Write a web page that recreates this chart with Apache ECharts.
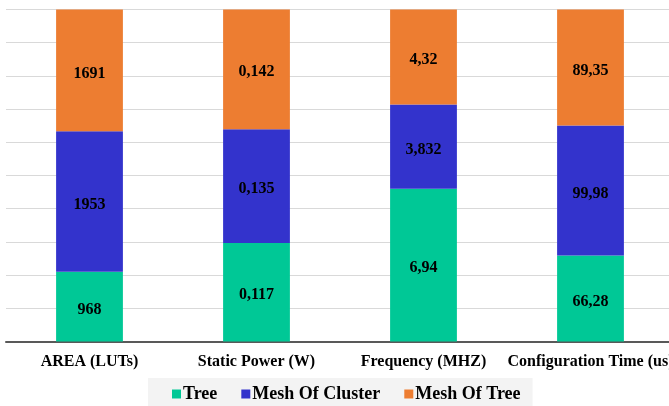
<!DOCTYPE html>
<html><head><meta charset="utf-8">
<script src="https://cdn.jsdelivr.net/npm/echarts@6/dist/echarts.min.js"></script>
<style>html,body{margin:0;padding:0;background:#fff}#c{width:669px;height:406px}</style>
</head><body><div id="c"></div>
<script>
const categories = ['AREA (LUTs)', 'Static Power (W)', 'Frequency (MHZ)', 'Configuration Time (us)'];
const treeValues = [968, 0.117, 6.94, 66.28];
const meshClusterValues = [1953, 0.135, 3.832, 99.98];
const meshTreeValues = [1691, 0.142, 4.32, 89.35];
const seriesNames = ['Tree', 'Mesh Of Cluster', 'Mesh Of Tree'];
const colors = ['#00C896', '#3333CC', '#ED7D31'];

const raw = [treeValues, meshClusterValues, meshTreeValues];
const totals = categories.map((_, i) => raw.reduce((s, arr) => s + arr[i], 0));
const fmt = v => String(v).replace('.', ',');
const serif = '"Liberation Serif", "Times New Roman", serif';

const chart = echarts.init(document.getElementById('c'));
chart.setOption({
  animation: false,
  grid: { left: 6, width: 668, top: 9.5, bottom: 64.5, containLabel: false, outerBoundsMode: 'none' },
  legend: {
    data: seriesNames,
    left: 148, top: 378,
    padding: [7, 12, 10, 24],
    backgroundColor: '#f3f3f3',
    itemWidth: 9, itemHeight: 9, itemGap: 24,
    icon: 'rect',
    textStyle: { fontFamily: serif, fontWeight: 'bold', fontSize: 18, color: '#000', padding: [0, 0, 0, -3] }
  },
  xAxis: {
    type: 'category', data: categories,
    axisLine: { lineStyle: { color: '#595959', width: 2 } },
    axisTick: { show: false },
    axisLabel: { fontFamily: serif, fontWeight: 'bold', fontSize: 16, color: '#000', margin: 12, interval: 0, hideOverlap: false }
  },
  yAxis: {
    type: 'value', min: 0, max: 100, interval: 10,
    axisLabel: { show: false }, axisLine: { show: false }, axisTick: { show: false },
    splitLine: { lineStyle: { color: '#d9d9d9', width: 1 } }
  },
  series: raw.map((arr, k) => ({
    name: seriesNames[k], type: 'bar', stack: 'all', barWidth: '40%',
    itemStyle: { color: colors[k] },
    data: arr.map((v, i) => ({ value: v / totals[i] * 100, raw: v })),
    label: {
      show: true, position: 'inside', offset: [0, 3],
      fontFamily: serif, fontWeight: 'bold', fontSize: 16, color: '#000',
      formatter: p => fmt(p.data.raw)
    }
  }))
});
</script></body></html>
